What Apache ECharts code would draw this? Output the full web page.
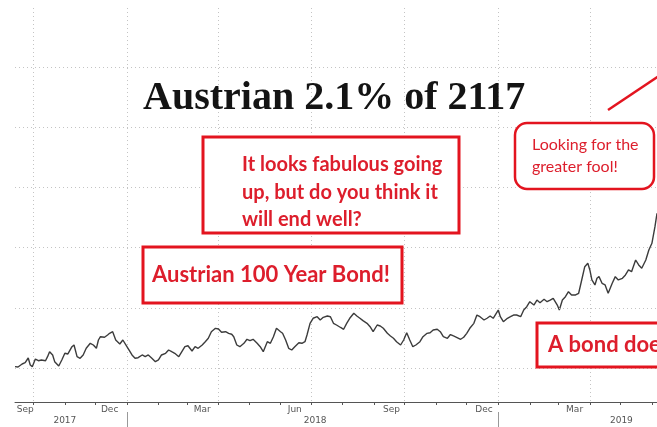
<!DOCTYPE html>
<html><head><meta charset="utf-8">
<script src="https://cdn.jsdelivr.net/npm/echarts@6/dist/echarts.min.js"></script>
<style>html,body{margin:0;padding:0;background:#fff}#c{width:657px;height:427px}</style>
</head><body><div id="c"></div>
<script>
// ---- data ----
const dates = ['2017-09-13','2017-09-16','2017-09-20','2017-09-23','2017-09-26','2017-09-28','2017-09-30','2017-10-03','2017-10-06','2017-10-09','2017-10-13','2017-10-15','2017-10-17','2017-10-20','2017-10-22','2017-10-26','2017-10-29','2017-11-01','2017-11-04','2017-11-08','2017-11-10','2017-11-13','2017-11-16','2017-11-19','2017-11-22','2017-11-26','2017-11-29','2017-12-02','2017-12-04','2017-12-06','2017-12-10','2017-12-13','2017-12-15','2017-12-18','2017-12-21','2017-12-25','2017-12-28','2018-01-01','2018-01-03','2018-01-06','2018-01-09','2018-01-12','2018-01-16','2018-01-19','2018-01-22','2018-01-25','2018-01-29','2018-02-01','2018-02-04','2018-02-08','2018-02-11','2018-02-14','2018-02-17','2018-02-21','2018-02-24','2018-02-27','2018-03-02','2018-03-06','2018-03-09','2018-03-12','2018-03-16','2018-03-19','2018-03-22','2018-03-25','2018-03-29','2018-04-01','2018-04-04','2018-04-08','2018-04-11','2018-04-14','2018-04-16','2018-04-19','2018-04-22','2018-04-26','2018-04-29','2018-05-02','2018-05-05','2018-05-09','2018-05-12','2018-05-15','2018-05-19','2018-05-22','2018-05-25','2018-05-28','2018-06-01','2018-06-03','2018-06-06','2018-06-09','2018-06-12','2018-06-15','2018-06-19','2018-06-22','2018-06-25','2018-06-27','2018-06-30','2018-07-03','2018-07-07','2018-07-10','2018-07-13','2018-07-17','2018-07-20','2018-07-23','2018-07-26','2018-07-30','2018-08-02','2018-08-05','2018-08-08','2018-08-12','2018-08-15','2018-08-18','2018-08-21','2018-08-25','2018-08-28','2018-08-31','2018-09-04','2018-09-07','2018-09-10','2018-09-14','2018-09-17','2018-09-20','2018-09-23','2018-09-27','2018-09-30','2018-10-03','2018-10-06','2018-10-09','2018-10-12','2018-10-16','2018-10-19','2018-10-23','2018-10-26','2018-10-29','2018-11-02','2018-11-05','2018-11-08','2018-11-12','2018-11-15','2018-11-18','2018-11-21','2018-11-25','2018-11-28','2018-12-01','2018-12-04','2018-12-08','2018-12-11','2018-12-14','2018-12-18','2018-12-21','2018-12-24','2018-12-27','2018-12-30','2019-01-01','2019-01-03','2019-01-06','2019-01-10','2019-01-13','2019-01-16','2019-01-19','2019-01-23','2019-01-26','2019-01-29','2019-02-01','2019-02-05','2019-02-08','2019-02-11','2019-02-15','2019-02-18','2019-02-21','2019-02-24','2019-02-28','2019-03-02','2019-03-05','2019-03-08','2019-03-11','2019-03-14','2019-03-18','2019-03-21','2019-03-24','2019-03-27','2019-03-30','2019-04-01','2019-04-03','2019-04-06','2019-04-08','2019-04-10','2019-04-13','2019-04-16','2019-04-19','2019-04-23','2019-04-26','2019-04-29','2019-05-03','2019-05-06','2019-05-09','2019-05-12','2019-05-16','2019-05-19','2019-05-22','2019-05-26','2019-05-29','2019-06-01','2019-06-04','2019-06-06'];
const prices = [100.22,100.17,100.66,100.88,101.66,100.50,100.22,101.49,101.21,101.33,101.21,101.88,102.71,102.16,101.05,100.33,101.33,102.44,102.33,103.54,103.82,101.88,101.61,102.16,103.27,104.10,103.82,103.27,104.65,105.20,105.10,105.48,105.76,106.03,104.65,103.99,104.65,103.54,102.99,102.16,101.61,101.71,102.16,101.88,102.16,101.71,101.05,101.33,102.16,102.44,102.99,102.71,102.44,101.88,102.71,103.54,103.70,102.82,103.54,103.27,103.82,104.37,104.93,106.03,106.59,106.48,105.93,106.03,105.76,105.60,105.20,103.82,103.54,104.10,104.77,104.53,104.77,104.10,103.54,102.71,104.37,104.10,105.20,106.59,106.03,105.76,104.65,103.27,102.99,103.54,104.20,104.10,104.37,105.48,107.42,108.26,108.52,107.97,108.42,108.64,108.52,107.42,107.14,106.73,106.43,107.42,108.26,109.09,108.64,108.26,107.86,107.42,106.86,106.03,107.14,106.98,106.59,105.76,105.32,104.93,104.37,103.82,104.65,105.86,104.65,103.54,103.82,104.37,105.20,105.76,105.86,106.31,106.43,106.03,105.20,104.93,105.56,105.32,105.10,104.77,105.10,105.76,106.59,107.42,108.80,108.52,107.97,108.26,108.64,108.26,109.09,109.63,108.52,107.69,108.26,108.52,108.80,108.80,108.52,109.63,110.18,111.01,110.46,111.29,110.85,111.41,111.01,111.29,111.58,110.46,109.63,111.29,111.84,112.67,112.13,112.13,112.41,114.62,116.83,117.39,116.28,114.62,113.79,114.90,115.17,114.07,113.79,112.41,114.07,115.17,114.62,114.90,115.45,116.28,116.00,117.94,117.11,116.56,117.94,119.60,120.71,123.47,125.70];

const startDate = '2017-09-13';
const endDate = '2019-06-06';
const monthLabelDates = ['2017-09-23','2017-12-15','2018-03-16','2018-06-15','2018-09-18','2018-12-18','2019-03-17'];
const monthLabels = ['Sep','Dec','Mar','Jun','Sep','Dec','Mar'];
const yearLabelDates = ['2017-11-01','2018-07-05','2019-05-02'];
const yearLabels = ['2017','2018','2019'];
const gridValues = [100, 110, 120, 130, 140, 150];
const titleText = 'Austrian 2.1% of 2117';

// ---- build axis categories (every calendar day) ----
const days = [];
for (let t = Date.parse(startDate + 'T00:00:00Z'); t <= Date.parse(endDate + 'T00:00:00Z'); t += 86400000) {
  days.push(new Date(t).toISOString().slice(0, 10));
}
const quarterStarts = ['01-01', '04-01', '07-01', '10-01'];

const RED = '#e3141f';
const TXT = '#dd1e2c';
const boxFont = 'Lato, "Open Sans", sans-serif';
const GRID = {color: '#c4c4c4', type: [1, 3], width: 1};

const chart = echarts.init(document.getElementById('c'), null, {renderer: 'canvas'});
chart.setOption({
  animation: false,
  backgroundColor: '#fff',
  title: {
    text: titleText, left: 143, top: 79, padding: 0,
    textStyle: {fontFamily: '"Liberation Serif", "DejaVu Serif", serif', fontWeight: 'bold', fontSize: 40, color: '#141414'}
  },
  grid: {left: 15, right: 0, top: 8, bottom: 25},
  xAxis: [{
    type: 'category', data: days, boundaryGap: false,
    axisLine: {lineStyle: {color: '#555', width: 1}},
    axisTick: {interval: (i, v) => v.slice(8) === '01', length: 3, lineStyle: {color: '#555'}},
    axisLabel: {
      interval: (i, v) => monthLabelDates.includes(v),
      formatter: v => monthLabels[monthLabelDates.indexOf(v)],
      fontSize: 9, color: '#555', margin: 3, fontFamily: '"DejaVu Sans", sans-serif'
    },
    splitLine: {show: true, interval: (i, v) => quarterStarts.includes(v.slice(5)), lineStyle: GRID}
  }, {
    type: 'category', data: days, boundaryGap: false, position: 'bottom', offset: 10,
    axisLine: {show: false},
    axisTick: {interval: (i, v) => v.slice(5) === '01-01', length: 16, lineStyle: {color: '#999'}},
    axisLabel: {
      interval: (i, v) => yearLabelDates.includes(v),
      formatter: v => yearLabels[yearLabelDates.indexOf(v)],
      fontSize: 9, color: '#555', margin: 4, fontFamily: '"DejaVu Sans", sans-serif'
    },
    splitLine: {show: false}
  }],
  yAxis: {type: 'value', min: 94.35, max: 159.8, show: false},
  series: [{
    type: 'line', xAxisIndex: 0,
    data: dates.map((d, i) => [d, prices[i]]),
    symbol: 'none', lineStyle: {color: '#3c3c3c', width: 1.4},
    markLine: {
      silent: true, symbol: ['none', 'none'], label: {show: false},
      lineStyle: GRID,
      data: gridValues.map(v => ({yAxis: v}))
    }
  }],
  graphic: [
    {type: 'rect', z: 100, shape: {x: 203, y: 137, width: 256, height: 96}, style: {fill: '#fff', stroke: RED, lineWidth: 3}},
    {type: 'text', z: 101, x: 242, y: 151, style: {text: 'It looks fabulous going\nup, but do you think it\nwill end well?', fill: TXT, font: 'bold 20px ' + boxFont, lineHeight: 27.5, verticalAlign: 'top'}},
    {type: 'rect', z: 100, shape: {x: 143, y: 247, width: 259, height: 56}, style: {fill: '#fff', stroke: RED, lineWidth: 3}},
    {type: 'text', z: 101, x: 152, y: 275, style: {text: 'Austrian 100 Year Bond!', fill: TXT, font: 'bold 22px ' + boxFont, verticalAlign: 'middle'}},
    {type: 'rect', z: 100, shape: {x: 515, y: 123, width: 139, height: 66, r: 12}, style: {fill: '#fff', stroke: RED, lineWidth: 2.5}},
    {type: 'text', z: 101, x: 532, y: 134, style: {text: 'Looking for the\ngreater fool!', fill: TXT, font: '16px ' + boxFont, lineHeight: 22, verticalAlign: 'top'}},
    {type: 'line', z: 100, shape: {x1: 608, y1: 110, x2: 662, y2: 74}, style: {stroke: RED, lineWidth: 2.5}},
    {type: 'rect', z: 100, shape: {x: 537, y: 323, width: 140, height: 44}, style: {fill: '#fff', stroke: RED, lineWidth: 3}},
    {type: 'text', z: 101, x: 548, y: 345, style: {text: 'A bond does', fill: TXT, font: 'bold 22px ' + boxFont, verticalAlign: 'middle'}}
  ]
});
</script>
</body></html>
